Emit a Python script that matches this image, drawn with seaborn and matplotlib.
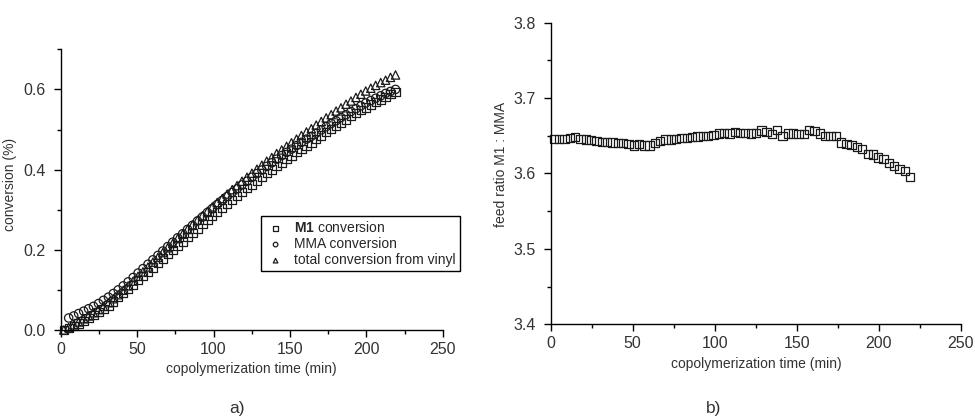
import numpy as np
import pandas as pd
import seaborn as sns
import matplotlib.pyplot as plt
from matplotlib.ticker import MultipleLocator

# tempo de copolimerização (min)
tempo = [2.0, 5.2, 8.5, 11.7, 15.0, 18.2, 21.4, 24.7, 27.9, 31.2, 34.4, 37.6, 40.9, 44.1,
         47.4, 50.6, 53.8, 57.1, 60.3, 63.6, 66.8, 70.0, 73.3, 76.5, 79.8, 83.0, 86.2, 89.5,
         92.7, 96.0, 99.2, 102.4, 105.7, 108.9, 112.2, 115.4, 118.6, 121.9, 125.1, 128.4,
         131.6, 134.8, 138.1, 141.3, 144.6, 147.8, 151.0, 154.3, 157.5, 160.8, 164.0, 167.2,
         170.5, 173.7, 177.0, 180.2, 183.4, 186.7, 189.9, 193.2, 196.4, 199.6, 202.9, 206.1,
         209.4, 212.6, 215.8, 219.1]

conv_m1 = [0.000, 0.005, 0.010, 0.016, 0.023, 0.030, 0.037, 0.045, 0.053, 0.061, 0.071, 0.082,
           0.093, 0.103, 0.113, 0.124, 0.134, 0.145, 0.156, 0.167, 0.178, 0.189, 0.200, 0.211,
           0.221, 0.232, 0.242, 0.253, 0.264, 0.274, 0.284, 0.294, 0.305, 0.315, 0.325, 0.334,
           0.344, 0.354, 0.363, 0.373, 0.382, 0.391, 0.400, 0.409, 0.418, 0.426, 0.435, 0.444,
           0.452, 0.460, 0.468, 0.477, 0.485, 0.493, 0.501, 0.509, 0.517, 0.525, 0.533, 0.541,
           0.548, 0.555, 0.562, 0.568, 0.575, 0.581, 0.588, 0.594]

conv_mma = [np.nan, 0.030, 0.035, 0.041, 0.047, 0.053, 0.059, 0.066, 0.074, 0.082, 0.091, 0.100,
            0.110, 0.120, 0.131, 0.142, 0.153, 0.164, 0.175, 0.186, 0.197, 0.208, 0.219, 0.230,
            0.240, 0.251, 0.261, 0.272, 0.282, 0.293, 0.303, 0.313, 0.323, 0.333, 0.343, 0.352,
            0.362, 0.371, 0.381, 0.390, 0.399, 0.408, 0.417, 0.426, 0.435, 0.443, 0.451, 0.460,
            0.468, 0.476, 0.483, 0.491, 0.499, 0.507, 0.515, 0.522, 0.530, 0.537, 0.545, 0.552,
            0.559, 0.566, 0.572, 0.578, 0.584, 0.590, 0.595, 0.600]

conv_total = [0.000, 0.006, 0.013, 0.020, 0.028, 0.035, 0.043, 0.051, 0.059, 0.068, 0.078, 0.088,
              0.099, 0.110, 0.122, 0.134, 0.145, 0.157, 0.169, 0.181, 0.193, 0.205, 0.216, 0.228,
              0.239, 0.251, 0.262, 0.274, 0.285, 0.296, 0.307, 0.318, 0.328, 0.339, 0.350, 0.360,
              0.371, 0.381, 0.391, 0.401, 0.411, 0.421, 0.430, 0.440, 0.449, 0.458, 0.467, 0.476,
              0.485, 0.494, 0.502, 0.511, 0.520, 0.529, 0.537, 0.546, 0.554, 0.563, 0.571, 0.580,
              0.588, 0.596, 0.603, 0.610, 0.617, 0.623, 0.630, 0.636]

razao = [3.646, 3.646, 3.646, 3.647, 3.648, 3.646, 3.645, 3.644, 3.643, 3.642, 3.642, 3.641,
         3.640, 3.640, 3.639, 3.637, 3.639, 3.637, 3.637, 3.640, 3.643, 3.645, 3.645, 3.646,
         3.647, 3.647, 3.648, 3.649, 3.650, 3.650, 3.651, 3.653, 3.654, 3.653, 3.655, 3.654,
         3.654, 3.653, 3.654, 3.657, 3.655, 3.652, 3.658, 3.650, 3.653, 3.653, 3.652, 3.652,
         3.658, 3.656, 3.653, 3.650, 3.650, 3.650, 3.641, 3.639, 3.638, 3.635, 3.632, 3.626,
         3.625, 3.621, 3.619, 3.614, 3.610, 3.606, 3.603, 3.595]

sns.set_style("ticks")
plt.rcParams['font.family'] = ['Liberation Sans', 'DejaVu Sans']
plt.rcParams['mathtext.fontset'] = 'custom'
plt.rcParams['mathtext.bf'] = 'Liberation Sans:bold'
plt.rcParams['mathtext.rm'] = 'Liberation Sans'

df = pd.DataFrame({"tempo": tempo, "m1": conv_m1, "mma": conv_mma,
                   "total": conv_total, "razao": razao})

fig = plt.figure(figsize=(9.75, 4.2), dpi=100)
ax1 = fig.add_axes([0.0623, 0.2143, 0.3918, 0.6683])
ax2 = fig.add_axes([0.5648, 0.2279, 0.4208, 0.7183])

cor = "#1a1a1a"
estilo = dict(facecolor="none", edgecolor=cor, linewidth=0.9, s=36, clip_on=False)

# Painel a)
sns.scatterplot(data=df, x="tempo", y="m1", marker="s", ax=ax1,
                label=r"$\mathbf{M1}$ conversion", **estilo)
sns.scatterplot(data=df, x="tempo", y="mma", marker="o", ax=ax1,
                label="MMA conversion", **estilo)
sns.scatterplot(data=df, x="tempo", y="total", marker="^", ax=ax1,
                label="total conversion from vinyl", **estilo)
ax1.set_xlim(0, 250)
ax1.set_ylim(0, 0.7)
ax1.set_yticks([0.0, 0.2, 0.4, 0.6])
ax1.set_xlabel("copolymerization time (min)", fontsize=10)
ax1.set_ylabel("conversion (%)", fontsize=10)
ax1.yaxis.set_label_coords(-0.114, 0.52)
leg = ax1.legend(loc="upper left", bbox_to_anchor=(0.506, 0.431), fontsize=10,
                 markerscale=0.55, fancybox=False, framealpha=1, edgecolor="black",
                 handletextpad=0.6, borderpad=0.3, labelspacing=0.15, handlelength=1.5)
leg.get_frame().set_linewidth(1.0)

# Painel b)
sns.scatterplot(data=df, x="tempo", y="razao", marker="s", ax=ax2, **estilo)
ax2.set_xlim(0, 250)
ax2.set_ylim(3.4, 3.8)
ax2.set_yticks([3.4, 3.5, 3.6, 3.7, 3.8])
ax2.set_xlabel("copolymerization time (min)", fontsize=10)
ax2.set_ylabel("feed ratio M1 : MMA", fontsize=10)
ax2.yaxis.set_label_coords(-0.104, 0.53)

for ax in (ax1, ax2):
    sns.despine(ax=ax)
    ax.xaxis.set_minor_locator(MultipleLocator(25))
    ax.yaxis.set_minor_locator(MultipleLocator(0.1 if ax is ax1 else 0.05))
    ax.tick_params(which="major", direction="out", length=5, width=1, labelsize=11.5,
                   colors="black", labelcolor="#333333")
    ax.tick_params(axis="y", which="major", pad=6)
    ax.tick_params(which="minor", direction="out", length=3, width=1, colors="black")
    for s in ("left", "bottom"):
        ax.spines[s].set_linewidth(1.0)
        ax.spines[s].set_color("black")
    ax.xaxis.label.set_color("#333333")
    ax.yaxis.label.set_color("#333333")

fig.text(237 / 975, 1 - 408 / 420, "a)", fontsize=12.5, ha="center", va="center", color="#333333")
fig.text(714 / 975, 1 - 408 / 420, "b)", fontsize=12.5, ha="center", va="center", color="#333333")

plt.savefig("out.png", dpi=100)
